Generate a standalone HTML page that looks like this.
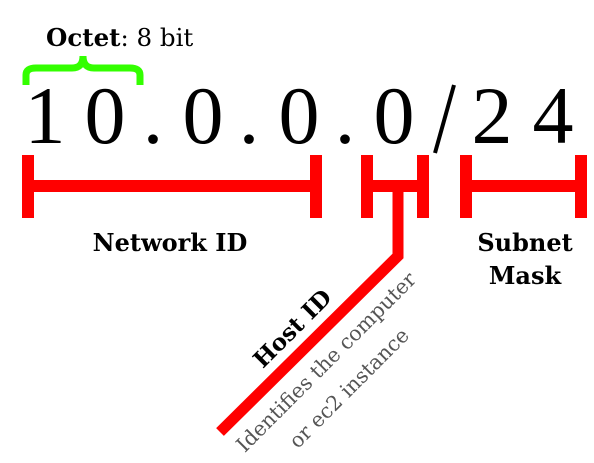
<!DOCTYPE html>
<html><head><meta charset="utf-8"><style>
html,body{margin:0;padding:0;background:#fff;}
svg{display:block;}
text{font-family:"DejaVu Serif","Liberation Serif",serif;}
.big{font-family:"Liberation Serif","DejaVu Serif",serif;}
</style></head><body>
<svg width="594" height="463" viewBox="0 0 594 463" xmlns="http://www.w3.org/2000/svg">
<text x="46" y="46" font-size="24.5" fill="#000"><tspan font-weight="bold">Octet</tspan>: 8 bit</text>
<path d="M26 85 V75 Q26 68 36 68 H72 Q83 68 83 56 Q83 68 94 68 H130 Q140 68 140 75 V85" fill="none" stroke="#33ff00" stroke-width="7"/>
<g font-size="82" fill="#000" text-anchor="middle">
<text class="big" x="45" y="143">1</text>
<text class="big" x="105" y="143">0</text>
<text class="big" x="153" y="143">.</text>
<text class="big" x="203" y="143">0</text>
<text class="big" x="249" y="143">.</text>
<text class="big" x="299" y="143">0</text>
<text class="big" x="345" y="143">.</text>
<text class="big" x="394" y="143">0</text>
<text class="big" x="492" y="143">2</text>
<text class="big" x="553" y="143">4</text>
</g>
<line x1="454" y1="85" x2="435" y2="153" stroke="#000" stroke-width="4"/>
<g fill="#ff0000">
<rect x="22" y="155" width="12" height="63"/><rect x="310" y="155" width="12" height="63"/><rect x="22" y="180" width="300" height="12"/>
<rect x="361" y="155" width="12" height="63"/><rect x="417" y="155" width="12" height="63"/><rect x="361" y="180" width="68" height="12"/>
<rect x="460" y="155" width="12" height="63"/><rect x="575" y="155" width="12" height="63"/><rect x="460" y="180" width="127" height="12"/>
</g>
<polyline points="398,186 398,256 220,432" fill="none" stroke="#ff0000" stroke-width="11"/>
<text x="170" y="251" font-size="24" font-weight="bold" text-anchor="middle">Network ID</text>
<text x="525" y="251" font-size="24" font-weight="bold" text-anchor="middle">Subnet</text>
<text x="525" y="284" font-size="24" font-weight="bold" text-anchor="middle">Mask</text>
<text transform="translate(298,334) rotate(-45)" font-size="23" font-weight="bold" text-anchor="middle">Host ID</text>
<text transform="translate(331,367) rotate(-45)" font-size="20.5" fill="#555" text-anchor="middle">Identifies the computer</text>
<text transform="translate(354,393) rotate(-45)" font-size="20.5" fill="#555" text-anchor="middle">or ec2 instance</text>
</svg>
</body></html>
